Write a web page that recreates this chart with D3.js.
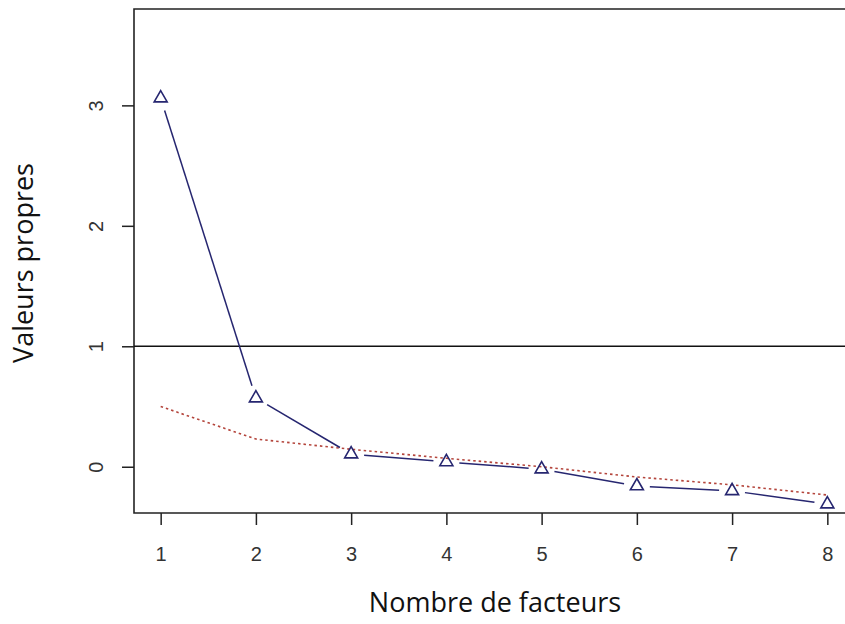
<!DOCTYPE html>
<html>
<head>
<meta charset="utf-8">
<script src="https://cdn.jsdelivr.net/npm/d3@7"></script>
<style>
  html, body { margin: 0; padding: 0; background: #fff; }
  svg { display: block; }
</style>
</head>
<body>
<svg id="chart" width="845" height="624"></svg>
<script>
// ---- data ----
const factors = [1, 2, 3, 4, 5, 6, 7, 8];
const eigenValues = [3.06, 0.57, 0.105, 0.04, -0.02, -0.16, -0.20, -0.31];
const parallelValues = [0.50, 0.23, 0.145, 0.07, 0.0, -0.085, -0.15, -0.235];
const yTicks = [0, 1, 2, 3];
const xTicks = [1, 2, 3, 4, 5, 6, 7, 8];
const refLine = 1;
const xTitle = "Nombre de facteurs";
const yTitle = "Valeurs propres";

// ---- layout ----
const svg = d3.select("#chart");
const pLeft = 134, pTop = 9, pBottom = 513, pRight = 854;
const x = d3.scaleLinear().domain([0.72, 8.28]).range([pLeft, pRight]);
const y = d3.scaleLinear().domain([-0.384, 3.80]).range([pBottom, pTop]);

const tickFont = "'Liberation Sans', Arial, sans-serif";
const titleFont = "'Open Sans', Lato, sans-serif";

// frame (right side is outside the picture)
svg.append("path")
  .attr("d", `M${pRight},${pTop}H${pLeft}V${pBottom}H${pRight}`)
  .attr("fill", "none").attr("stroke", "#222").attr("stroke-width", 1.6);

// axes
const gx = svg.append("g").attr("transform", `translate(0,${pBottom})`)
  .call(d3.axisBottom(x).tickValues(xTicks).tickSize(12).tickPadding(0).tickFormat(d3.format("d")));
gx.select(".domain").remove();
gx.selectAll(".tick line").attr("stroke", "#222").attr("stroke-width", 1.5);
gx.selectAll(".tick text").attr("y", 48).attr("dy", null)
  .attr("font-family", tickFont).attr("font-size", 20).attr("fill", "#333");

const gy = svg.append("g").attr("transform", `translate(${pLeft},0)`)
  .call(d3.axisLeft(y).tickValues(yTicks).tickSize(12).tickFormat(d3.format("d")));
gy.select(".domain").remove();
gy.selectAll(".tick line").attr("stroke", "#222").attr("stroke-width", 1.5);
gy.selectAll(".tick text")
  .attr("x", null).attr("dy", null)
  .attr("text-anchor", "middle")
  .attr("transform", "translate(-31,0) rotate(-90)")
  .attr("font-family", tickFont).attr("font-size", 20).attr("fill", "#333");

// reference line at 1
svg.append("line")
  .attr("x1", pLeft).attr("x2", 845)
  .attr("y1", y(refLine)).attr("y2", y(refLine))
  .attr("stroke", "#111").attr("stroke-width", 1.5);

// parallel analysis dotted line
svg.append("path")
  .datum(factors.map((f, i) => [f, parallelValues[i]]))
  .attr("d", d3.line().x(d => x(d[0])).y(d => y(d[1])))
  .attr("fill", "none").attr("stroke", "#b4453c")
  .attr("stroke-width", 1.6).attr("stroke-dasharray", "2.5,3");

// eigenvalue line, type "b" (gaps around points)
const pts = factors.map((f, i) => [x(f), y(eigenValues[i])]);
const gap = 13;
const segs = [];
for (let i = 0; i < pts.length - 1; i++) {
  const [x0, y0] = pts[i], [x1, y1] = pts[i + 1];
  const dx = x1 - x0, dy = y1 - y0, len = Math.hypot(dx, dy);
  if (len > 2 * gap) {
    const ux = dx / len, uy = dy / len;
    segs.push([x0 + ux * gap, y0 + uy * gap, x1 - ux * gap, y1 - uy * gap]);
  }
}
svg.append("g").selectAll("line").data(segs).join("line")
  .attr("x1", d => d[0]).attr("y1", d => d[1])
  .attr("x2", d => d[2]).attr("y2", d => d[3])
  .attr("stroke", "#262670").attr("stroke-width", 1.5);

// open triangles
const r = 7.5;
const tri = `M0,${-r}L${r * Math.sqrt(3) / 2},${r / 2}L${-r * Math.sqrt(3) / 2},${r / 2}Z`;
svg.append("g").selectAll("path").data(factors.map((f, i) => [f, eigenValues[i]])).join("path")
  .attr("transform", d => `translate(${x(d[0])},${y(d[1])})`)
  .attr("d", tri)
  .attr("fill", "none").attr("stroke", "#262670").attr("stroke-width", 1.6);

// titles
svg.append("text")
  .attr("x", 495).attr("y", 612)
  .attr("text-anchor", "middle")
  .attr("font-family", titleFont).attr("font-size", 27).attr("fill", "#111")
  .text(xTitle);

svg.append("text")
  .attr("transform", "translate(33,263) rotate(-90)")
  .attr("text-anchor", "middle")
  .attr("font-family", titleFont).attr("font-size", 27).attr("fill", "#111")
  .text(yTitle);
</script>
</body>
</html>
